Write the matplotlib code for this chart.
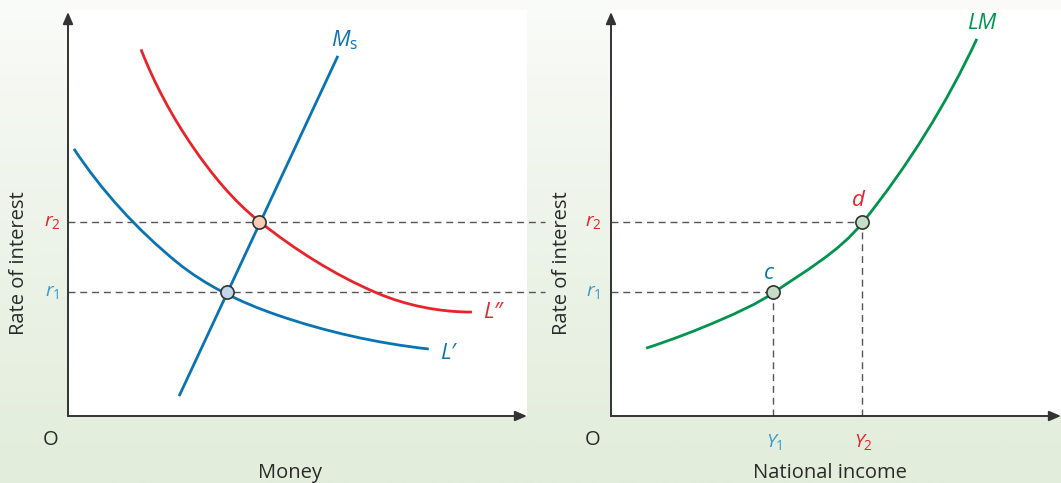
import numpy as np
import matplotlib
matplotlib.use("Agg")
import matplotlib.pyplot as plt
from matplotlib.colors import LinearSegmentedColormap
from matplotlib.path import Path
from matplotlib.patches import PathPatch

plt.rcParams['font.family'] = ['Open Sans', 'DejaVu Sans']
plt.rcParams['mathtext.fontset'] = 'custom'
plt.rcParams['mathtext.rm'] = 'Open Sans'
plt.rcParams['mathtext.it'] = 'Open Sans:italic'

# ---- data (arbitrary units, axes run 0..10) ----
# left panel: money market
l2_x = [1.59, 2.72, 4.17, 6.73, 8.80]
l2_y = [9.03, 6.63, 4.79, 3.03, 2.56]
l1_x = [0.13, 2.37, 4.55, 7.86]
l1_y = [6.58, 3.79, 2.49, 1.65]
ms_x = [2.42, 5.88]
ms_y = [0.49, 8.87]
r1, r2 = 3.05, 4.79
eq1_x, eq2_x = 3.46, 4.17

# right panel: LM curve
lm_x = [0.78, 2.42, 3.60, 5.58, 8.13]
lm_y = [1.67, 2.36, 3.03, 4.75, 9.29]
y1, y2 = 3.60, 5.58

BLUE = '#0a74b3'
LBLUE = '#3c9ad2'
RED = '#e8242b'
GREEN = '#00944e'
AX = '#333333'
DASH = '#555555'

W, H = 1061, 483
fig = plt.figure(figsize=(W / 100, H / 100), dpi=100)

# background gradient
bg = fig.add_axes([0, 0, 1, 1])
cmap = LinearSegmentedColormap.from_list('bg', ['#fbfcfa', '#e2eddb'])
grad = np.linspace(0, 1, 256) ** 0.8
bg.imshow(grad[:, None], aspect='auto', cmap=cmap, extent=[0, 1, 0, 1], origin='upper')
bg.set_axis_off()


def unit(v):
    return v / np.hypot(*v)


def smooth_curve(ax, xs, ys, color):
    # smooth bezier through the points, handles sized by chord length
    p = np.column_stack([xs, ys])
    n = len(p)
    tang = [None] * n
    for i in range(1, n - 1):
        tang[i] = unit(p[i + 1] - p[i - 1])
    # ends: mirror the neighbour tangent about the end chord
    c0 = unit(p[1] - p[0])
    tang[0] = unit(2 * c0 * np.dot(c0, tang[1]) - tang[1]) if n > 2 else c0
    c1 = unit(p[-1] - p[-2])
    tang[-1] = unit(2 * c1 * np.dot(c1, tang[-2]) - tang[-2]) if n > 2 else c1
    verts = [p[0]]
    codes = [Path.MOVETO]
    for i in range(n - 1):
        L = np.hypot(*(p[i + 1] - p[i])) / 3
        verts += [p[i] + tang[i] * L, p[i + 1] - tang[i + 1] * L, p[i + 1]]
        codes += [Path.CURVE4] * 3
    ax.add_patch(PathPatch(Path(verts, codes), fc='none', ec=color, lw=2.0,
                           capstyle='butt', zorder=3))


def make_axes(x0, x1):
    # panel from pixel x0..x1, y 10..416
    ax = fig.add_axes([x0 / W, (H - 416) / H, (x1 - x0) / W, (416 - 10) / H])
    ax.set_xlim(0, 10)
    ax.set_ylim(0, 10)
    ax.set_facecolor('white')
    for s in ax.spines.values():
        s.set_visible(False)
    ax.set_xticks([])
    ax.set_yticks([])
    arrow = dict(arrowstyle='-|>,head_length=0.7,head_width=0.3', color=AX, lw=1.4,
                 shrinkA=0, shrinkB=0)
    ax.annotate('', xy=(0, 9.95), xytext=(0, 0), arrowprops=arrow, annotation_clip=False)
    ax.annotate('', xy=(10, 0), xytext=(0, 0), arrowprops=arrow, annotation_clip=False)
    return ax


dash_kw = dict(color=DASH, lw=1.0, ls=(0, (5, 3.5)), clip_on=False, zorder=1)
pt_kw = dict(marker='o', markersize=9.5, markeredgecolor=AX, markeredgewidth=1.2,
             ls='none', zorder=5)
lab = dict(fontsize=14.5, color='#2a2a2a')

# ---- left panel ----
ax1 = make_axes(68, 527)
ax1.plot([0, 10.4], [r2, r2], **dash_kw)
ax1.plot([0, 10.4], [r1, r1], **dash_kw)
smooth_curve(ax1, l2_x, l2_y, RED)
smooth_curve(ax1, l1_x, l1_y, BLUE)
ax1.plot(ms_x, ms_y, color=BLUE, lw=2.0, solid_capstyle='butt', zorder=3)
ax1.plot([eq2_x], [r2], markerfacecolor='#f7cbb6', **pt_kw)
ax1.plot([eq1_x], [r1], markerfacecolor='#c3d5e8', **pt_kw)

ax1.text(-1.07, 3.77, 'Rate of interest', rotation=90, ha='center', va='center', **lab)
ax1.text(-0.35, r2, '$r_2$', color=RED, fontsize=14, ha='center', va='center')
ax1.text(-0.35, r1, '$r_1$', color=LBLUE, fontsize=14, ha='center', va='center')
ax1.text(-0.37, -0.59, 'O', ha='center', va='center', **lab)
ax1.text(4.84, -1.40, 'Money', ha='center', va='center', **lab)
ax1.text(5.73, 9.26, r'$M_{\mathrm{s}}$', color=BLUE, fontsize=16, ha='left', va='center')
ax1.text(9.04, 2.56, 'L″', color=RED, fontsize=16, style='italic', ha='left', va='center')
ax1.text(8.1, 1.55, 'L′', color=BLUE, fontsize=16, style='italic', ha='left', va='center')

# ---- right panel ----
ax2 = make_axes(611, 1061)
ax2.plot([0, y2], [r2, r2], **dash_kw)
ax2.plot([0, y1], [r1, r1], **dash_kw)
ax2.plot([y1, y1], [0, r1], **dash_kw)
ax2.plot([y2, y2], [0, r2], **dash_kw)
smooth_curve(ax2, lm_x, lm_y, GREEN)
ax2.plot([y1, y2], [r1, r2], markerfacecolor='#c6ddc8', **pt_kw)

ax2.text(-1.09, 3.77, 'Rate of interest', rotation=90, ha='center', va='center', **lab)
ax2.text(-0.40, r2, '$r_2$', color=RED, fontsize=14, ha='center', va='center')
ax2.text(-0.40, r1, '$r_1$', color=LBLUE, fontsize=14, ha='center', va='center')
ax2.text(-0.40, -0.59, 'O', ha='center', va='center', **lab)
ax2.text(y1 + 0.04, -0.64, '$Y_1$', color=LBLUE, fontsize=14, ha='center', va='center')
ax2.text(y2 + 0.02, -0.64, '$Y_2$', color=RED, fontsize=14, ha='center', va='center')
ax2.text(4.87, -1.40, 'National income', ha='center', va='center', **lab)
ax2.text(3.51, 3.52, 'c', color=BLUE, fontsize=16, style='italic', ha='center', va='center')
ax2.text(5.49, 5.32, 'd', color=RED, fontsize=16, style='italic', ha='center', va='center')
ax2.text(8.24, 9.66, 'LM', color=GREEN, fontsize=16, style='italic', ha='center', va='center')

fig.savefig('out.png', dpi=100)
